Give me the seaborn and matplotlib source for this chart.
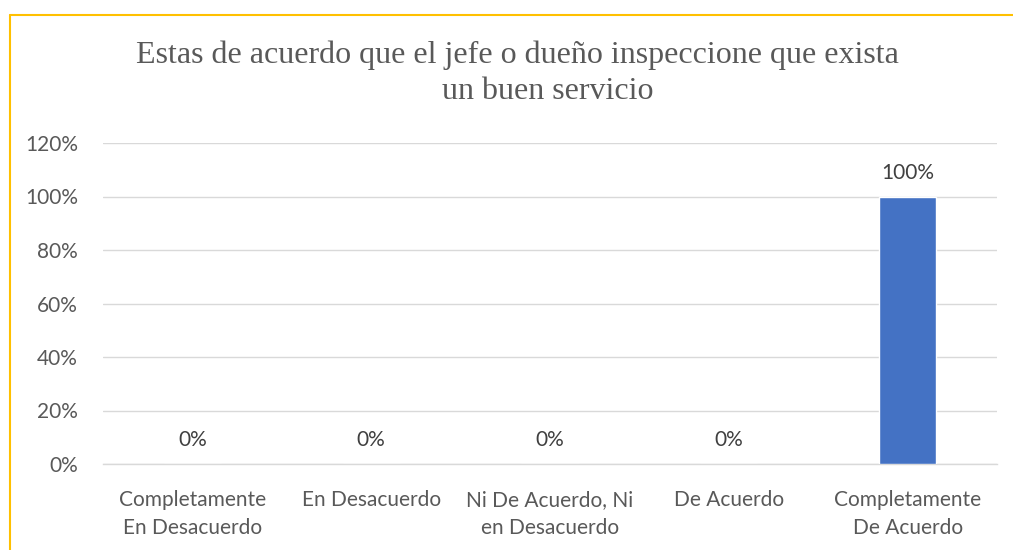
import matplotlib
matplotlib.use("Agg")
import matplotlib.pyplot as plt
import seaborn as sns
import pandas as pd
from matplotlib.lines import Line2D
from matplotlib.ticker import FuncFormatter

categories = ["Completamente\nEn Desacuerdo", "En Desacuerdo", "Ni De Acuerdo, Ni\nen Desacuerdo",
              "De Acuerdo", "Completamente\nDe Acuerdo"]
values = [0.0, 0.0, 0.0, 0.0, 1.0]
title_lines = ["Estas de acuerdo que el jefe o dueño inspeccione que exista", "un buen servicio"]

sns.set_theme(style="white")
plt.rcParams['font.family'] = ['Lato', 'DejaVu Sans']

W, H = 1013, 550
fig = plt.figure(figsize=(W / 100, H / 100), dpi=100)
ax = fig.add_axes([103 / W, 86 / H, (997 - 103) / W, (464 - 143) / H])

df = pd.DataFrame({"cat": categories, "val": values})
sns.barplot(data=df, x="cat", y="val", color="#4472C4", saturation=1, width=0.32, ax=ax, zorder=3)

ax.set_ylim(0, 1.2)
ax.set_yticks([0, 0.2, 0.4, 0.6, 0.8, 1.0, 1.2])
ax.yaxis.set_major_formatter(FuncFormatter(lambda v, p: f"{v*100:.0f}%"))
ax.grid(axis="y", color="#D9D9D9", linewidth=1.0, zorder=0)
ax.grid(axis="x", visible=False)
for s in ["top", "right", "left"]:
    ax.spines[s].set_visible(False)
ax.spines["bottom"].set_color("#D9D9D9")
ax.spines["bottom"].set_linewidth(1.0)
ax.tick_params(axis="both", length=0, colors="#595959", labelsize=15)
ax.tick_params(axis="x", pad=19)
ax.tick_params(axis="y", pad=18)
ax.set_xlabel("")
ax.set_ylabel("")
for lbl in ax.get_xticklabels():
    lbl.set_linespacing(1.45)

for i, v in enumerate(values):
    ax.annotate(f"{v*100:.0f}%", (i, v), xytext=(0, 17), textcoords="offset points",
                ha="center", va="center", fontsize=15, color="#404040")

fig.text(517 / W, 1 - 55 / H, title_lines[0], ha="center", va="center",
         family="Liberation Serif", fontsize=23, color="#595959")
fig.text(548 / W, 1 - 91 / H, title_lines[1], ha="center", va="center",
         family="Liberation Serif", fontsize=23, color="#595959")

fig.add_artist(Line2D([10 / W, 1.0], [1 - 15 / H, 1 - 15 / H], transform=fig.transFigure,
                      color="#FFC000", linewidth=1.5))
fig.add_artist(Line2D([10 / W, 10 / W], [0, 1 - 15 / H], transform=fig.transFigure,
                      color="#FFC000", linewidth=1.5))

fig.savefig("out.png", dpi=100, facecolor="white")
